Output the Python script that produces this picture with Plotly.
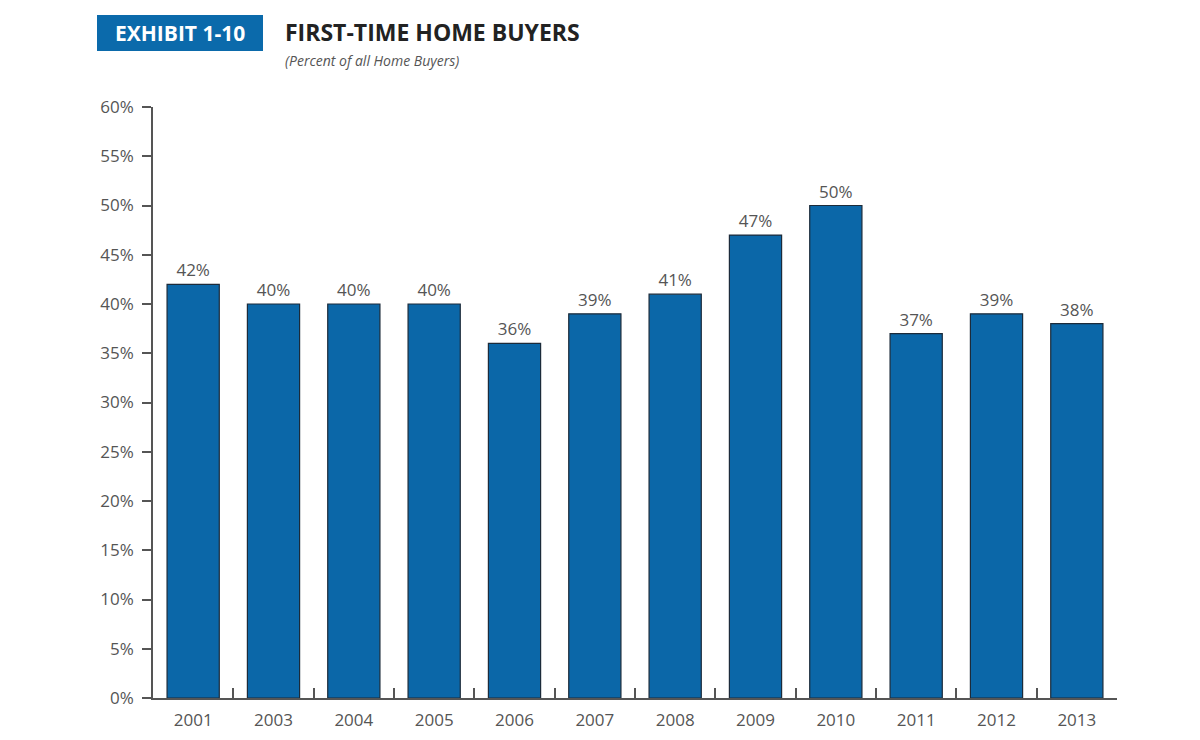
import plotly.graph_objects as go

years = ["2001", "2003", "2004", "2005", "2006", "2007", "2008", "2009", "2010", "2011", "2012", "2013"]
first_time_pct = [42, 40, 40, 40, 36, 39, 41, 47, 50, 37, 39, 38]
y_ticks = [0, 5, 10, 15, 20, 25, 30, 35, 40, 45, 50, 55, 60]

# page has an 8px body margin, so target pixels are shifted by OFF
OFF = 8
L, R, T, B = 153 - OFF, 1117 - OFF, 107 - OFF, 698 - OFF
W, H = R - L, B - T

def px_x(p):
    return (p - OFF - L) / W

def px_y(p):
    return (B - (p - OFF)) / H

fig = go.Figure(go.Bar(
    x=years, y=first_time_pct,
    text=[f"{v}%" for v in first_time_pct],
    textposition="outside",
    textfont=dict(size=17, color="#555555"),
    marker=dict(color="#0b67a8", line=dict(color="#1c2b3a", width=1.2)),
    width=0.65,
    cliponaxis=False,
))

fig.update_layout(
    width=1200, height=740,
    margin=dict(l=L, r=1200 - R, t=T, b=740 - B),
    plot_bgcolor="white", paper_bgcolor="white",
    font=dict(family="Open Sans", color="#555555", size=17),
    showlegend=False,
)

fig.update_xaxes(
    type="category", range=[-0.5, 11.5],
    tickson="boundaries", ticks="inside", ticklen=10, tickwidth=1.5, tickcolor="#555555",
    showline=True, linecolor="#555555", linewidth=1.5, ticklabelstandoff=6,
    showgrid=False, tickfont=dict(size=17, color="#555555"),
)
fig.update_yaxes(
    range=[0, 60], tickvals=y_ticks, ticktext=[f"{v}%" for v in y_ticks],
    ticks="outside", ticklen=9, tickwidth=1.5, tickcolor="#555555",
    showline=True, linecolor="#555555", linewidth=1.5, ticklabelstandoff=5,
    showgrid=False, zeroline=False, tickfont=dict(size=17, color="#555555"),
)

# header: blue exhibit box + title + subtitle
fig.add_shape(type="rect", xref="paper", yref="paper",
              x0=px_x(97), x1=px_x(263), y0=px_y(51), y1=px_y(15),
              fillcolor="#0b6aab", line=dict(width=0))
fig.add_annotation(xref="paper", yref="paper", x=px_x(180), y=px_y(33),
                   xanchor="center", yanchor="middle",
                   text="<b>EXHIBIT 1-10</b>", showarrow=False,
                   font=dict(size=21, color="white", family="Open Sans"))
fig.add_annotation(xref="paper", yref="paper", x=px_x(283), y=px_y(32),
                   xanchor="left", yanchor="middle",
                   text="<b>FIRST-TIME HOME BUYERS</b>", showarrow=False,
                   font=dict(size=23, color="#222222", family="Open Sans"))
fig.add_annotation(xref="paper", yref="paper", x=px_x(283), y=px_y(61),
                   xanchor="left", yanchor="middle",
                   text="<i>(Percent of all Home Buyers)</i>", showarrow=False,
                   font=dict(size=14, color="#555555", family="Open Sans"))

fig.write_html("out.html")
